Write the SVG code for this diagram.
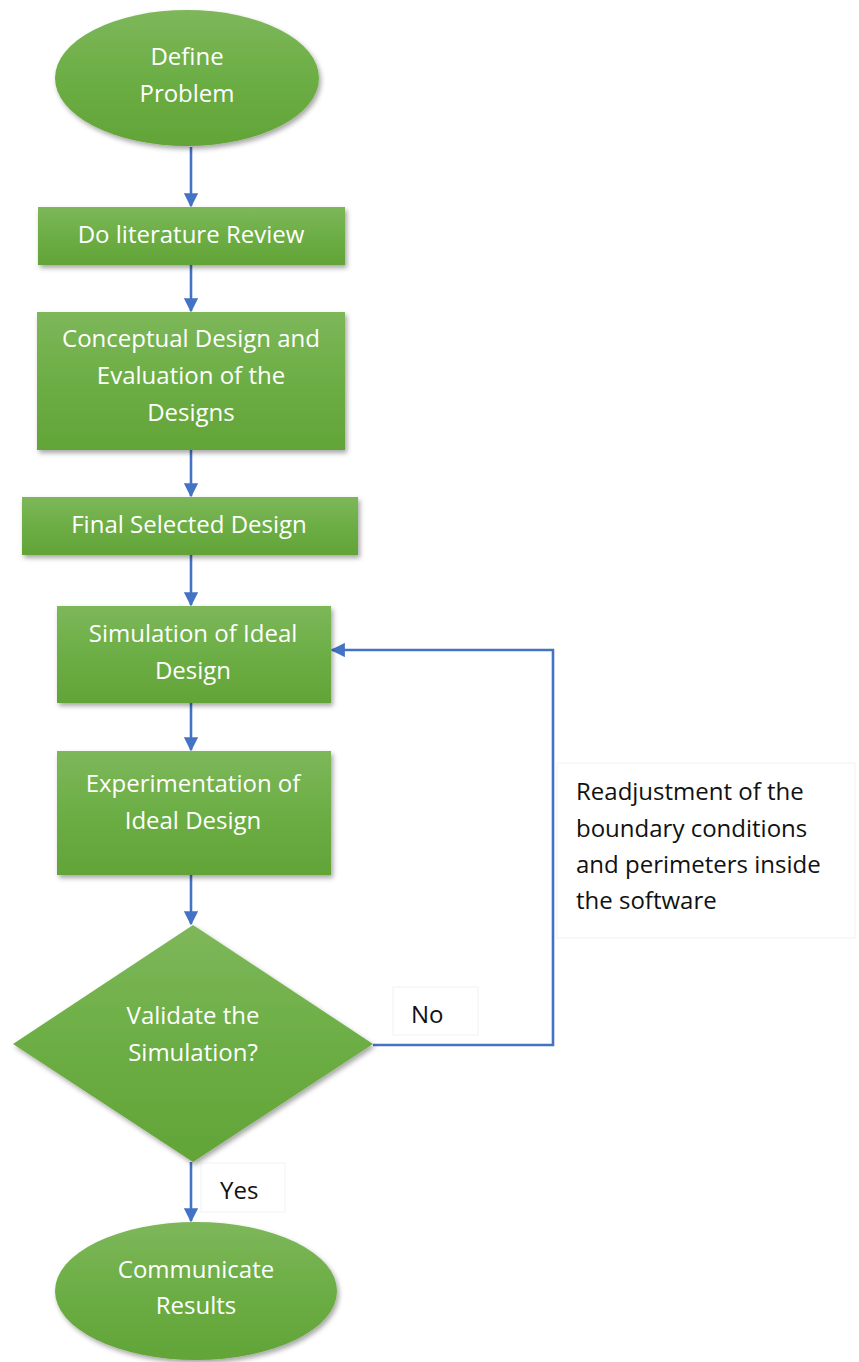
<svg xmlns="http://www.w3.org/2000/svg" width="859" height="1362" viewBox="0 0 859 1362">
  <defs>
    <linearGradient id="greenFill" x1="0" y1="0" x2="0" y2="1">
      <stop offset="0" stop-color="#7db75a"/>
      <stop offset="0.5" stop-color="#6cae45"/>
      <stop offset="1" stop-color="#62a437"/>
    </linearGradient>
    <filter id="shadow" x="-10%" y="-10%" width="130%" height="130%">
      <feDropShadow dx="2" dy="3" stdDeviation="2.5" flood-color="#000" flood-opacity="0.35"/>
    </filter>
    <marker id="arrow" viewBox="0 0 10 10" refX="9" refY="5" markerWidth="5.5" markerHeight="5.5" orient="auto" markerUnits="strokeWidth">
      <path d="M0,0 L10,5 L0,10 z" fill="#4472c4"/>
    </marker>
  </defs>
  <style>
    .shape { fill: url(#greenFill); filter: url(#shadow); }
    .label { font-family: "Open Sans", "Liberation Sans", sans-serif; font-size: 24px; fill: #ffffff; text-anchor: middle; }
    .note { font-family: "Open Sans", "Liberation Sans", sans-serif; font-size: 24px; fill: #111111; }
    .notebox { fill: #ffffff; stroke: #f2f2f2; stroke-width: 1; }
    .link { fill: none; stroke: #4472c4; stroke-width: 2.6; marker-end: url(#arrow); }
  </style>

  <rect width="859" height="1362" fill="#ffffff"/>

  <!-- connectors -->
  <g id="connectors">
    <line class="link" x1="191" y1="147" x2="191" y2="206"/>
    <line class="link" x1="191" y1="265" x2="191" y2="311"/>
    <line class="link" x1="191" y1="450" x2="191" y2="496"/>
    <line class="link" x1="191" y1="555" x2="191" y2="605"/>
    <line class="link" x1="191" y1="703" x2="191" y2="750"/>
    <line class="link" x1="191" y1="875" x2="191" y2="924"/>
    <line class="link" x1="191" y1="1162" x2="191" y2="1221"/>
    <polyline class="link" points="373,1045 553,1045 553,650 332,650"/>
  </g>

  <!-- edge labels -->
  <g id="label-no">
    <rect class="notebox" x="393" y="987" width="85" height="48"/>
    <text class="note" x="411" y="1023">No</text>
  </g>
  <g id="label-yes">
    <rect class="notebox" x="201" y="1163" width="84" height="49"/>
    <text class="note" x="220" y="1199">Yes</text>
  </g>
  <g id="label-readjust">
    <rect class="notebox" x="557" y="763" width="298" height="175"/>
    <text class="note" x="576" y="800">Readjustment of the</text>
    <text class="note" x="576" y="837">boundary conditions</text>
    <text class="note" x="576" y="873">and perimeters inside</text>
    <text class="note" x="576" y="909">the software</text>
  </g>

  <!-- nodes -->
  <g id="define-problem">
    <ellipse class="shape" cx="187" cy="78" rx="132" ry="68"/>
    <text class="label" x="187" y="65">Define</text>
    <text class="label" x="187" y="102">Problem</text>
  </g>
  <g id="literature-review">
    <rect class="shape" x="38" y="207" width="307" height="58"/>
    <text class="label" x="191" y="243">Do literature Review</text>
  </g>
  <g id="conceptual-design">
    <rect class="shape" x="37" y="312" width="308" height="138"/>
    <text class="label" x="191" y="347">Conceptual Design and</text>
    <text class="label" x="191" y="384">Evaluation of the</text>
    <text class="label" x="191" y="421">Designs</text>
  </g>
  <g id="final-design">
    <rect class="shape" x="22" y="497" width="336" height="58"/>
    <text class="label" x="189" y="533">Final Selected Design</text>
  </g>
  <g id="simulation">
    <rect class="shape" x="57" y="606" width="274" height="97"/>
    <text class="label" x="193" y="642">Simulation of Ideal</text>
    <text class="label" x="193" y="679">Design</text>
  </g>
  <g id="experimentation">
    <rect class="shape" x="57" y="751" width="274" height="124"/>
    <text class="label" x="193" y="792">Experimentation of</text>
    <text class="label" x="193" y="829">Ideal Design</text>
  </g>
  <g id="validate">
    <polygon class="shape" points="193,925 373,1044 193,1162 13,1044"/>
    <text class="label" x="193" y="1024">Validate the</text>
    <text class="label" x="193" y="1061">Simulation?</text>
  </g>
  <g id="communicate-results">
    <ellipse class="shape" cx="196" cy="1291" rx="141" ry="69"/>
    <text class="label" x="196" y="1278">Communicate</text>
    <text class="label" x="196" y="1314">Results</text>
  </g>
</svg>
